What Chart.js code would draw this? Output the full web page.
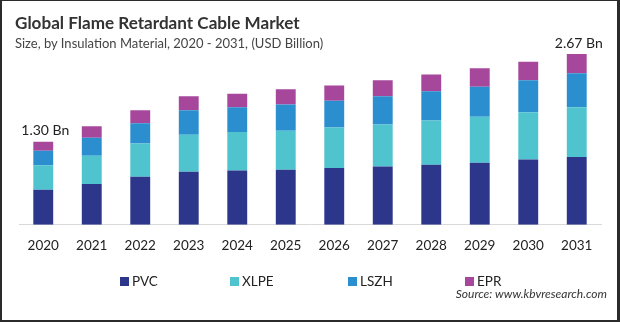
<!DOCTYPE html>
<html><head><meta charset="utf-8">
<script src="https://cdn.jsdelivr.net/npm/chart.js@4.4.0/dist/chart.umd.min.js"></script>
<style>
html,body{margin:0;padding:0;background:#fff;}
#wrap{position:relative;width:620px;height:322px;overflow:hidden;font-family:Lato,"Open Sans",sans-serif;background:#fff;}
#c{position:absolute;left:0;top:0;}
#frame{position:absolute;left:0;top:0;right:0;bottom:0;border:1px solid #2b2b2b;border-left:2px solid #2b2b2b;border-right:3px solid #2b2b2b;border-bottom:2px solid #2b2b2b;pointer-events:none;}
#title{position:absolute;left:15px;top:12px;font-family:Lato,sans-serif;font-weight:bold;font-size:17.1px;color:#333;white-space:nowrap;}
#sub{position:absolute;left:15px;top:35px;font-size:13px;color:#444;white-space:nowrap;}
#legend{position:absolute;top:273px;left:0;width:620px;height:16px;}
.li{position:absolute;top:0;font-size:13.5px;color:#222;white-space:nowrap;line-height:16px;}
.sw{display:inline-block;width:9px;height:9px;margin-right:3px;vertical-align:-0px;}
#src{position:absolute;right:13px;top:286px;font-size:12px;font-style:italic;color:#333;white-space:nowrap;}
</style></head>
<body>
<div id="wrap">
<canvas id="c" width="620" height="322"></canvas>
<div id="title">Global Flame Retardant Cable Market</div>
<div id="sub">Size, by Insulation Material, 2020 - 2031, (USD Billion)</div>
<div id="legend"></div>
<div id="src">Source: www.kbvresearch.com</div>
<div id="frame"></div>
</div>
<script>
const categories = ['2020','2021','2022','2023','2024','2025','2026','2027','2028','2029','2030','2031'];
const pvc  = [0.55,0.64,0.75,0.83,0.85,0.86,0.89,0.91,0.94,0.97,1.02,1.06];
const xlpe = [0.38,0.44,0.52,0.58,0.60,0.61,0.63,0.66,0.69,0.72,0.74,0.78];
const lszh = [0.23,0.28,0.32,0.38,0.39,0.41,0.42,0.44,0.46,0.47,0.50,0.53];
const epr  = [0.14,0.18,0.20,0.22,0.21,0.24,0.24,0.25,0.26,0.29,0.29,0.30];
const totalLabels = ['1.30 Bn','','','','','','','','','','','2.67 Bn'];
const seriesNames = ['PVC','XLPE','LSZH','EPR'];
const seriesColors = ['#2c378c','#4fc4cf','#2b8fcf','#a6479c'];
const seriesData = [pvc, xlpe, lszh, epr];

const totalPlugin = {
  id: 'totals',
  afterDatasetsDraw(chart) {
    const ctx = chart.ctx;
    const meta = chart.getDatasetMeta(chart.data.datasets.length - 1);
    ctx.save();
    ctx.font = '14px Lato, sans-serif';
    ctx.fillStyle = '#222';
    ctx.textAlign = 'center';
    ctx.textBaseline = 'middle';
    meta.data.forEach((bar, i) => {
      if (totalLabels[i]) ctx.fillText(totalLabels[i], bar.x + 2, bar.y - 11);
    });
    ctx.restore();
  }
};

new Chart(document.getElementById('c'), {
  type: 'bar',
  data: {
    labels: categories,
    datasets: seriesData.map((d, i) => ({
      label: seriesNames[i], data: d, backgroundColor: seriesColors[i],
      borderWidth: 0, categoryPercentage: 0.82, barPercentage: 0.5
    }))
  },
  options: {
    responsive: false, animation: false, devicePixelRatio: 1,
    layout: { padding: { left: 19, right: 19, top: 33, bottom: 55 } },
    plugins: { legend: { display: false }, tooltip: { enabled: false }, title: { display: false } },
    scales: {
      x: { stacked: true, grid: { display: false, drawTicks: false }, border: { display: true, color: '#d9d9d9', width: 1 },
           ticks: { color: '#222', font: { family: 'Lato, sans-serif', size: 13.5 }, padding: 13, maxRotation: 0 } },
      y: { stacked: true, display: false, min: 0, max: 3 }
    }
  },
  plugins: [totalPlugin]
});

const lefts = [120, 230, 348, 465];
const lg = document.getElementById('legend');
seriesNames.forEach((n, i) => {
  const d = document.createElement('div');
  d.className = 'li'; d.style.left = lefts[i] + 'px';
  d.innerHTML = '<span class="sw" style="background:' + seriesColors[i] + '"></span>' + n;
  lg.appendChild(d);
});
</script>
</body></html>
